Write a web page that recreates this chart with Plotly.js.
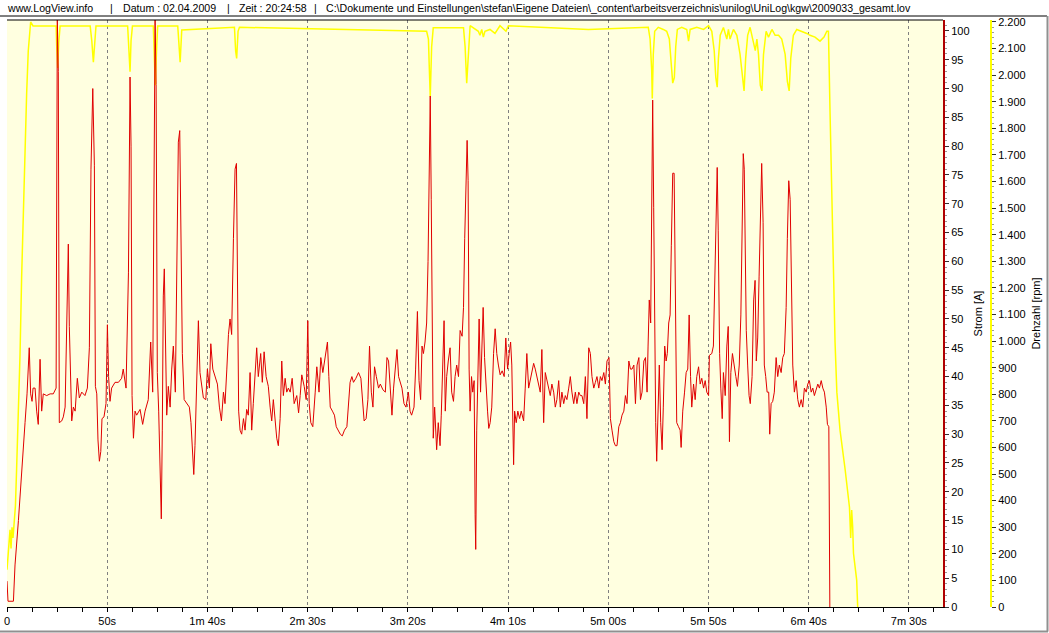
<!DOCTYPE html>
<html>
<head>
<meta charset="utf-8">
<script src="https://cdn.plot.ly/plotly-3.0.1.min.js"></script>
<style>html,body{margin:0;padding:0;background:#fff;}#chart{width:1049px;height:633px;}</style>
</head>
<body>
<div id="chart"></div>
<script>
// ---- data (time in seconds) ----
const tStrom = [0,0.5,3.2,4,5.7,7.3,9,10,11.1,11.8,12.5,13,14,14.8,15.6,16.5,17.3,18.1,19.8,21.5,23.1,24.5,25.1,25.6,26.1,27.3,28.1,29,29.8,30.6,31.1,31.8,32.3,33.1,34,35.1,36.1,37.3,38.9,40.1,41.1,41.9,42.8,43.6,44.1,44.8,45.4,46.1,46.8,47.4,48.4,49.4,50.1,50.7,51.4,52.2,53.9,55.6,57.2,58,59.4,60.6,61.4,61.9,62.4,63.1,63.9,64.7,66.4,67.7,68.9,70.5,71.7,72.7,73.5,73.9,74.4,75,75.7,76.4,77,77.5,78,78.5,79.2,79.7,80.5,81.4,82.2,83,84,84.7,85.5,86.2,86.9,87.5,88.4,89.7,91,91.8,92.7,93.2,93.8,94.7,95.5,96.3,97.2,98,99.2,100,101,101.7,102.7,103.8,105,106,107,108,108.8,109.7,110.5,111.3,112.1,113,113.8,114.5,115.1,115.6,116.3,117.1,118,118.8,119.6,120.4,121.3,122.1,122.9,123.8,124.6,125.4,126.6,127.4,128.3,129.3,130.4,131.3,132.1,132.9,133.8,134.6,135.4,136.3,137.1,137.9,138.8,139.6,140.4,141.3,142.3,143.3,144.6,145.5,146.3,147.1,148.3,149.3,150.1,150.8,151.6,152.6,153.8,154.6,155.7,156.6,157.6,158.8,159.9,160.6,161.3,162.4,163.4,164.3,165.4,166.3,167.3,168.4,169.6,170.6,171.2,172.1,172.9,174.1,175.4,176.6,177.4,178.2,179.2,180.1,180.9,181.8,182.6,183.4,184.3,185.4,186.3,187.6,188.8,189.6,190.4,191.3,192.1,192.9,193.8,194.6,195.4,196.3,197.1,198.1,199.1,200.3,201.1,201.9,203.1,203.9,204.8,205.6,206.4,207.1,207.8,208.6,209.4,210.1,210.7,211.2,211.7,212.2,212.7,213.4,213.9,214.4,215.2,216.1,216.7,217.4,218.1,218.7,219.4,220.2,221.1,221.9,222.8,223.6,224.4,225.3,226.1,227.1,227.8,228.4,229.1,229.6,230.1,230.6,231.1,231.8,232.4,233.1,233.6,233.9,234.4,234.9,235.6,236.3,236.9,237.6,238.3,239.1,239.8,240.4,241.1,241.9,242.8,243.6,244.4,245.2,246.1,247.1,248.1,248.9,249.8,250.6,251.3,251.9,252.8,253.3,254.1,254.9,255.8,256.6,257.8,258.6,259.4,260.3,261.1,262,262.8,263.6,264.4,265.3,266.1,266.9,267.8,268.6,269.4,270.3,271.1,271.9,272.8,273.6,274.4,275.3,276.1,276.9,277.8,278.6,279.4,280.3,281.1,281.9,282.8,283.6,284.4,285.3,286.1,286.9,287.8,288.6,289.4,290.3,291.1,291.9,292.8,293.6,294.4,295.3,296.1,296.9,297.8,298.6,299.4,300.4,301.1,301.9,302.8,303.6,304.4,305.3,306.1,306.9,307.8,308.6,309.4,310.3,311.1,311.9,312.8,313.6,314.4,315.3,316.1,316.9,317.8,318.6,319.4,319.9,320.5,321.2,321.7,322.2,322.7,323.2,323.7,324.2,324.9,325.5,326.2,326.9,327.5,328.2,328.9,329.5,330.2,330.9,331.5,332.2,332.9,333.5,334.2,335.1,335.9,336.4,337.2,338.1,338.9,339.7,340.4,341.1,341.7,342.6,343.4,344.2,345.1,345.9,346.7,347.6,348.4,349.2,350.1,350.5,351.7,352.5,353.2,353.9,354.4,354.9,355.6,356.2,356.9,357.5,358.4,359.2,359.9,360.5,361.2,362,362.9,363.7,364.5,365.4,366.2,366.9,367.4,367.9,368.4,368.9,369.6,370.3,370.9,371.8,372.6,373.3,373.9,374.6,375.3,375.9,376.6,377.3,377.9,378.6,379.3,380.1,380.6,381.3,382.1,382.9,383.8,384.6,385.4,386.3,387.1,387.9,388.8,389.4,390.1,390.8,391.4,392.1,392.9,393.8,394.6,395.4,396.3,397.1,397.9,398.8,399.6,400.4,401.3,402.1,402.9,403.8,404.6,405.4,406.3,407.1,407.9,408.8,409.4,410.1,410.4,410.6];
const strom = [4.5,1,1,7.3,15,24,32,37,45,37,35.7,38,38,34,31.7,43,34,37,36.7,37,37,38,102,93,32,32.3,33,34.7,47,63,48.7,36.7,32.3,34.7,34,39.7,36.3,37.3,36.7,38,45,76,90,76.7,38.3,37,29,25.3,27,32.7,33,35.3,49,40,35.7,38,39,39,39.7,41.3,38,58,92,80,36.7,29.3,34,33.3,34.3,31.7,34,36,46,37.3,77,102,90.7,40.7,34,24,15.3,30.7,54,58.7,40.7,33.3,38.3,34.7,41.3,45.3,37.3,60.7,80.7,82.7,58.7,44,36,35.3,34.7,32,25.3,23,28,40.7,49.7,40.7,38.3,36.3,36,41.3,38,45.7,41.3,40,38.7,34.7,32.3,37.3,35.3,41.3,47.3,50,47.3,64,76,77,53.3,34,30.7,30,32.7,30.7,34.3,33.3,40.7,30.7,35.3,41.3,45,40,44,39,44.3,40,38.3,34.7,32.3,36,32,29.3,28,32.7,42.7,36.7,39.7,37.3,38,37.3,39.7,35.3,36.7,33.7,36.7,40.3,38.3,36,49.7,35.3,32,31.3,37.3,41.7,37.3,43.3,40.7,44,46,40,34.7,34,33.3,31.3,30.7,30,29.7,30.7,31.3,36,39,40,39,39.7,40.7,39.7,36,32.3,32.7,36,45.3,37.3,34.7,41.7,40,38,38.7,37.7,37.3,43.3,42.7,38,33.3,38,41.3,44.7,40,38.7,38,35.3,34.7,37.3,34,33.3,34.7,41.3,51.3,39.3,36,45.3,44,46,49.3,60,77.3,88.7,70.7,52.7,29.3,34.7,30.7,27.3,32,28,33.3,42.7,49.7,34,40,42.7,45,37.3,35.7,40,42,40,48,47,52,64,76,81,74,41.3,34,40,37.3,39.3,16,10,30.7,41.7,50,37.3,43.3,52,43.3,37.3,34,31,32,34.7,44,48.3,44,42,40.3,41,40,46.7,41.3,44,46,42,24.7,34,32,34,32.7,34,32.3,38,44,38,39.3,40.7,42.3,41.3,40,38.7,37.3,44.7,32,40.7,39.3,38,36.7,38.7,37.3,34.7,36,39.3,34.7,37.3,35.3,36.7,36,38,40,37.3,35.3,37.3,35.3,37.3,36.7,36.7,35.3,40,32.7,45,44,40,38,39,40,38,40,39.3,40.7,38.7,42.7,43.3,32.7,30.7,28.7,28,28,31.3,32,33.3,34,36.7,35.3,42.7,41.3,41.3,42,35.3,42,43.3,36,37.3,42.7,43.3,37.3,45.3,53.3,49.3,69.3,88,69.3,44,32,25.3,34.7,42,32,27.3,34.7,45.3,42.7,44,49.3,50.7,62.7,75.3,75.3,58,32,31.3,30.7,27.7,34,37.3,40.7,41.3,50.7,40,34.7,38.7,36,40,41.7,38.7,39.7,38,39.3,37.3,36.7,43.7,44,45.3,58.7,70.7,76.3,65.3,44,38,32.7,40.7,36.7,45.3,48.7,28.7,40.7,44,41.3,40,38.3,42,50.7,64.7,78.7,76,64,48,42,36.7,35.3,40,53.3,56.7,42.7,46.7,57.3,69.3,77,66.7,42,40,37.3,37.3,30,35.3,35.7,37.3,43.3,40,42,40.7,43.3,44,52,64,74,70.7,57.3,42,37.3,39.3,36,34.7,36,34.7,38,37.3,38.7,39.3,37.3,38,36.7,38,38.7,38,39.3,38,37.3,34.7,31.7,31.3,10,0];

const tDrehzahl = [0,0.5,1,1.5,2,2.5,3,3.5,4.2,4.8,5.7,6.5,7.3,8.2,9,9.8,10.6,11.8,13,24.5,24.8,25.3,25.8,26.5,41.5,42.3,43.1,43.9,44.4,60.2,60.9,61.4,61.9,62.6,73,73.5,74,74.7,75.2,85.2,85.9,86.4,87.2,113.5,114.1,114.6,115.3,116,209.4,210.3,210.7,211.2,211.9,212.7,227.8,228.6,229.4,230.3,231.1,235.2,236,236.9,237.7,238.5,241,243.5,246,249,250.2,290.1,320,320.9,321.7,322,322.5,323.2,325,327.5,329.2,330.5,331.4,332.2,333,333.7,334.5,336.7,339.2,340.1,340.9,344.2,347.6,350.1,351.7,352.9,353.7,354.4,355,355.9,357.5,359.2,360,360.8,362.5,364.2,365.8,367,367.8,368.6,369.6,370.8,372.2,373.4,374.2,375,375.9,376.7,377.5,378.8,380,381.7,383.3,385,386.6,388.3,389.4,390.3,391.1,392.4,394.1,396.6,399.1,400.7,403.2,405.7,407.7,409.1,409.9,410.7,411.6,412.4,413.2,414.1,415.7,418.2,420.4,421,421.5,422,422.4,424,424.5];
const drehzahl = [140,200,240,290,220,300,260,330,380,520,740,950,1240,1530,1750,1930,2090,2200,2185,2185,2110,2027,2120,2185,2185,2130,2049,2115,2185,2185,2105,2013,2130,2185,2185,2080,1962,2110,2185,2185,2080,2049,2170,2180,2090,2063,2165,2180,2165,2136,2035,1919,2107,2178,2178,2107,1970,2092,2186,2165,2150,2172,2143,2165,2172,2157,2186,2165,2186,2172,2180,2136,2020,1912,2078,2165,2180,2172,2165,2136,2063,1970,1991,2107,2172,2180,2172,2128,2172,2180,2172,2186,2165,2092,1991,1955,2063,2150,2179,2136,2172,2136,2172,2150,2078,1977,1941,2063,2150,2180,2136,2092,2136,2078,1962,1941,2078,2165,2143,2172,2150,2150,2136,2078,1977,1941,2063,2150,2172,2165,2157,2150,2143,2128,2143,2165,2165,1861,1501,1241,996,808,664,519,375,260,365,300,202,101,0];

const xTickVals = [0,50,100,150,200,250,300,350,400,450];
const xTickText = ['0','50s','1m 40s','2m 30s','3m 20s','4m 10s','5m 00s','5m 50s','6m 40s','7m 30s'];
const headerParts = ['www.LogView.info','|','Datum : 02.04.2009','|','Zeit : 20:24:58','|','C:\\Dokumente und Einstellungen\\stefan\\Eigene Dateien\\_content\\arbeitsverzeichnis\\unilog\\UniLog\\kgw\\2009033_gesamt.lov'];
const headerX = [5,108,121,225,237,312,324];

// ---- geometry helpers ----
const W = 1049, H = 633;
const M = {l: 7, r: 10, t: 20, b: 26};
const PW = W - M.l - M.r, PH = H - M.t - M.b;
const px = x => (x - M.l) / PW;
const py = y => (H - M.b - y) / PH;

const FONT = 'Liberation Sans, Arial, sans-serif';

const minorX = [];
for (let v = 0; v <= 467; v += 12.5) minorX.push(v);

const traces = [
  {x: tDrehzahl, y: drehzahl, type: 'scatter', mode: 'lines', yaxis: 'y',
   line: {color: '#FFFF00', width: 1.5}, hoverinfo: 'skip'},
  {x: tStrom, y: strom, type: 'scatter', mode: 'lines', yaxis: 'y2',
   line: {color: '#E00000', width: 1}, hoverinfo: 'skip'}
];

const annotations = headerParts.map((t, i) => ({
  text: t, xref: 'paper', yref: 'paper', x: px(headerX[i]), y: py(8.5),
  xanchor: 'left', yanchor: 'middle', showarrow: false,
  font: {family: FONT, size: 10.6, color: '#000'}
}));

const shapes = [
  {type: 'line', xref: 'paper', yref: 'paper', x0: px(0), x1: px(1047), y0: py(16), y1: py(16), line: {color: '#000', width: 1}},
  {type: 'line', xref: 'paper', yref: 'paper', x0: px(7), x1: px(943), y0: py(20), y1: py(20), line: {color: '#000', width: 1}},
  {type: 'line', xref: 'paper', yref: 'paper', x0: px(1047.5), x1: px(1047.5), y0: py(16), y1: py(631.5), line: {color: '#909090', width: 2}},
  {type: 'line', xref: 'paper', yref: 'paper', x0: px(0), x1: px(1048), y0: py(631.5), y1: py(631.5), line: {color: '#909090', width: 2}}
];

const layout = {
  width: W, height: H,
  margin: {l: M.l, r: M.r, t: M.t, b: M.b, pad: 0},
  paper_bgcolor: '#ffffff', plot_bgcolor: '#FFFFE0',
  showlegend: false, separators: ',.',
  font: {family: FONT, size: 11, color: '#000'},
  xaxis: {
    domain: [0, px(943)], range: [0, 467.07], tickmode: 'array',
    tickvals: xTickVals, ticktext: xTickText,
    ticks: 'outside', ticklen: 4, tickcolor: '#000', tickfont: {family: FONT, size: 11},
    showline: true, linecolor: '#000', linewidth: 1,
    showgrid: true, gridcolor: '#808080', gridwidth: 1, griddash: '3px,3px',
    zeroline: false, fixedrange: true,
    minor: {tickvals: minorX, ticks: 'outside', ticklen: 4, tickcolor: '#000', showgrid: false}
  },
  yaxis: {
    anchor: 'free', position: px(991), side: 'right', range: [0, 2207.5],
    tick0: 0, dtick: 100, tickformat: ',.0f',
    ticks: 'outside', ticklen: 4, tickcolor: '#333', tickfont: {family: FONT, size: 11},
    showline: true, linecolor: '#FFFF00', linewidth: 2,
    showgrid: false, zeroline: false, fixedrange: true,
    minor: {dtick: 20, ticks: 'outside', ticklen: 2, tickcolor: '#999', showgrid: false},
    title: {text: 'Drehzahl [rpm]', standoff: 7, font: {family: FONT, size: 11}}
  },
  yaxis2: {
    overlaying: 'y', anchor: 'x', side: 'right', range: [0, 101.9],
    tick0: 0, dtick: 5,
    ticks: 'outside', ticklen: 4, tickcolor: '#333', tickfont: {family: FONT, size: 11},
    showline: true, linecolor: '#B00000', linewidth: 2,
    showgrid: false, zeroline: false, fixedrange: true,
    minor: {dtick: 1, ticks: 'outside', ticklen: 2, tickcolor: '#999', showgrid: false},
    title: {text: 'Strom [A]', standoff: 6, font: {family: FONT, size: 11}}
  },
  annotations: annotations,
  shapes: shapes
};

Plotly.newPlot('chart', traces, layout, {displayModeBar: false, staticPlot: true});
</script>
</body>
</html>
